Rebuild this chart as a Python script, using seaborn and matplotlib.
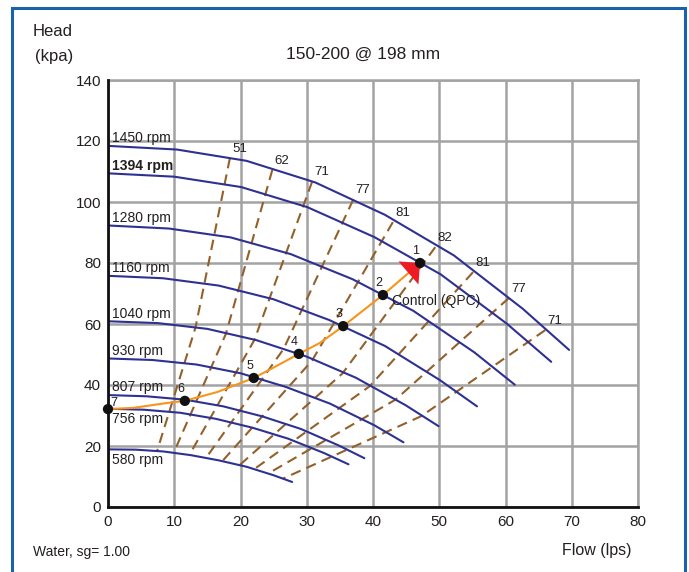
#!/usr/bin/env python3
"""Pump curve: head vs flow at variable speed, with efficiency iso-lines and QPC control curve."""
import matplotlib
matplotlib.use("Agg")
import matplotlib.pyplot as plt
from matplotlib.patches import Rectangle
import seaborn as sns

# speed curves (flow lps, head kPa)
speeds = ["1450 rpm", "1394 rpm", "1280 rpm", "1160 rpm", "1040 rpm",
          "930 rpm", "807 rpm", "756 rpm", "580 rpm"]
q_1450 = [0, 10.4, 20.9, 31.3, 41.8, 52.2, 62.6, 69.6]
h_1450 = [118.4, 117.2, 113.5, 106.4, 95.8, 82.5, 65.0, 51.5]
q_1394 = [0, 10.0, 20.1, 30.1, 40.2, 50.2, 60.2, 66.9]
h_1394 = [109.4, 108.3, 104.9, 98.3, 88.5, 76.3, 60.1, 47.6]
q_1280 = [0, 9.2, 18.5, 27.6, 36.9, 46.1, 55.3, 61.4]
h_1280 = [92.3, 91.3, 88.4, 82.9, 74.7, 64.3, 50.7, 40.1]
q_1160 = [0, 8.3, 16.7, 25.0, 33.4, 41.8, 50.1, 55.7]
h_1160 = [75.8, 75.0, 72.6, 68.1, 61.3, 52.8, 41.6, 33.0]
q_1040 = [0, 7.5, 15.0, 22.4, 30.0, 37.4, 44.9, 49.9]
h_1040 = [60.9, 60.3, 58.4, 54.7, 49.3, 42.4, 33.4, 26.5]
q_930 = [0, 6.7, 13.4, 20.1, 26.8, 33.5, 40.2, 44.6]
h_930 = [48.7, 48.2, 46.7, 43.8, 39.4, 33.9, 26.8, 21.2]
q_807 = [0, 5.8, 11.6, 17.4, 23.3, 29.1, 34.8, 38.7]
h_807 = [36.7, 36.3, 35.2, 33.0, 29.7, 25.6, 20.2, 16.0]
q_756 = [0, 5.4, 10.9, 16.3, 21.8, 27.2, 32.6, 36.3]
h_756 = [32.2, 31.9, 30.9, 28.9, 26.0, 22.4, 17.7, 14.0]
q_580 = [0, 4.2, 8.4, 12.5, 16.7, 20.9, 25.0, 27.8]
h_580 = [18.9, 18.8, 18.2, 17.0, 15.3, 13.2, 10.4, 8.2]

# efficiency iso-lines (%): top / middle / bottom points
eff_labels = ["51", "62", "71", "77", "81", "82", "81", "77", "71"]
eff_q_top = [18.4, 24.8, 30.8, 37.0, 43.0, 49.4, 55.1, 60.5, 66.0]
eff_h_top = [114.4, 110.5, 106.6, 100.7, 93.4, 85.2, 77.0, 68.5, 58.0]
eff_q_mid = [13.2, 17.8, 22.1, 26.5, 30.8, 35.4, 39.5, 43.4, 47.3]
eff_h_mid = [58.8, 56.8, 54.8, 51.8, 48.0, 43.8, 39.6, 35.2, 29.8]
eff_q_bot = [7.4, 9.9, 12.3, 14.8, 17.2, 19.8, 22.0, 24.2, 26.4]
eff_h_bot = [18.3, 17.7, 17.1, 16.1, 14.9, 13.6, 12.3, 11.0, 9.3]

# control curve (QPC) and operating points 1..7
ctrl_q = [0, 3.8, 8.9, 11.6, 16.5, 22.0, 24.9, 28.8, 32.0, 35.5, 41.5, 47.1]
ctrl_h = [32.1, 32.5, 34.1, 34.8, 37.7, 42.3, 45.6, 50.2, 53.8, 59.3, 69.5, 80.0]
op_labels = ["1", "2", "3", "4", "5", "6", "7"]
op_q = [47.1, 41.5, 35.5, 28.8, 22.0, 11.6, 0]
op_h = [80.0, 69.5, 59.3, 50.2, 42.3, 34.8, 32.1]

curves = [(q_1450, h_1450), (q_1394, h_1394), (q_1280, h_1280), (q_1160, h_1160),
          (q_1040, h_1040), (q_930, h_930), (q_807, h_807), (q_756, h_756),
          (q_580, h_580)]

BLUE = "#2E3192"
BROWN = "#93602C"
ORANGE = "#F7941D"
GRID = "#A3A3A3"

sns.set_theme(style="whitegrid")
plt.rcParams["font.family"] = ["Liberation Sans", "DejaVu Sans"]

fig = plt.figure(figsize=(6.89, 5.72), dpi=100)
ax = fig.add_axes([108 / 689, 65 / 572, 530 / 689, 427 / 572])
ax.set_facecolor("white")

# efficiency iso-lines (dashed)
for i in range(len(eff_labels)):
    xs = [eff_q_top[i], eff_q_mid[i], eff_q_bot[i]]
    ys = [eff_h_top[i], eff_h_mid[i], eff_h_bot[i]]
    sns.lineplot(x=xs, y=ys, ax=ax, color=BROWN, lw=1.5, sort=False,
                 estimator=None, linestyle=(0, (5.0, 3.0)), zorder=3)
    ax.annotate(eff_labels[i], (eff_q_top[i], eff_h_top[i]), xytext=(1.5, 2.5),
                textcoords="offset points", fontsize=9.5, color="#231F20",
                ha="left", va="bottom", zorder=6)

# speed curves
for name, (qs, hs) in zip(speeds, curves):
    sns.lineplot(x=qs, y=hs, ax=ax, color=BLUE, lw=1.5, sort=False,
                 estimator=None, zorder=4)
    below = name in ("756 rpm", "580 rpm")
    ax.annotate(name, (0, hs[0]), xytext=(3, -7.5 if below else 5.5),
                textcoords="offset points", fontsize=10, color="#231F20",
                ha="left", va="center",
                fontweight="bold" if name == "1394 rpm" else "normal", zorder=6)

# control curve with arrow head
sns.lineplot(x=ctrl_q, y=ctrl_h, ax=ax, color=ORANGE, lw=1.5, sort=False,
             estimator=None, zorder=5)
ax.annotate("", xy=(ctrl_q[-1], ctrl_h[-1]), xytext=(ctrl_q[-2], ctrl_h[-2]),
            arrowprops=dict(arrowstyle="-|>,head_length=0.55,head_width=0.55",
                            color="#ED1C24", lw=0, shrinkA=0, shrinkB=0,
                            mutation_scale=20), zorder=6)
sns.scatterplot(x=op_q, y=op_h, ax=ax, color="#111111", s=55, edgecolor="none",
                zorder=7, clip_on=False)
for lab, q, h in zip(op_labels, op_q, op_h):
    if lab == "7":
        ax.annotate(lab, (q, h), xytext=(2, 4.5), textcoords="offset points",
                    fontsize=9, color="#231F20", ha="left", va="center", zorder=8)
    else:
        ax.annotate(lab, (q, h), xytext=(-3, 4.5), textcoords="offset points",
                    fontsize=9, color="#231F20", ha="center", va="bottom", zorder=8)
ax.text(op_q[1] + 1.4, op_h[1] - 1.8, "Control (QPC)", fontsize=10,
        color="#231F20", ha="left", va="center", zorder=8)

ax.set_xlim(0, 80)
ax.set_ylim(0, 140)
ax.set_xticks(range(0, 81, 10))
ax.set_yticks(range(0, 141, 20))
ax.grid(True, color=GRID, lw=1.8)
ax.tick_params(length=0, labelsize=11, colors="#231F20")
ax.tick_params(axis="y", pad=5)
ax.tick_params(axis="x", pad=6)
for side in ("top", "right"):
    ax.spines[side].set_color(GRID)
    ax.spines[side].set_linewidth(1.8)
for side in ("left", "bottom"):
    ax.spines[side].set_color("#111111")
    ax.spines[side].set_linewidth(2.0)
    ax.spines[side].set_zorder(9)
ax.set_xlabel("")
ax.set_ylabel("")

fig.text(33 / 689, 1 - 32 / 572, "Head", fontsize=12, ha="left", va="center",
         color="#231F20")
fig.text(35 / 689, 1 - 57 / 572, "(kpa)", fontsize=12, ha="left", va="center",
         color="#231F20")
fig.text(363 / 689, 1 - 54 / 572, "150-200 @ 198 mm", fontsize=12.5,
         ha="center", va="center", color="#231F20")
fig.text(33 / 689, 1 - 552 / 572, "Water, sg= 1.00", fontsize=10, ha="left",
         va="center", color="#231F20")
fig.text(632 / 689, 1 - 550 / 572, "Flow (lps)", fontsize=11.5, ha="right",
         va="center", color="#231F20")

fig.patches.append(Rectangle((12 / 689, -0.05), 673 / 689, 1.05 - 8 / 572,
                             transform=fig.transFigure, fill=False,
                             edgecolor="#1B62AE", lw=2.2))

fig.savefig("out.png", dpi=100)
plt.close(fig)
